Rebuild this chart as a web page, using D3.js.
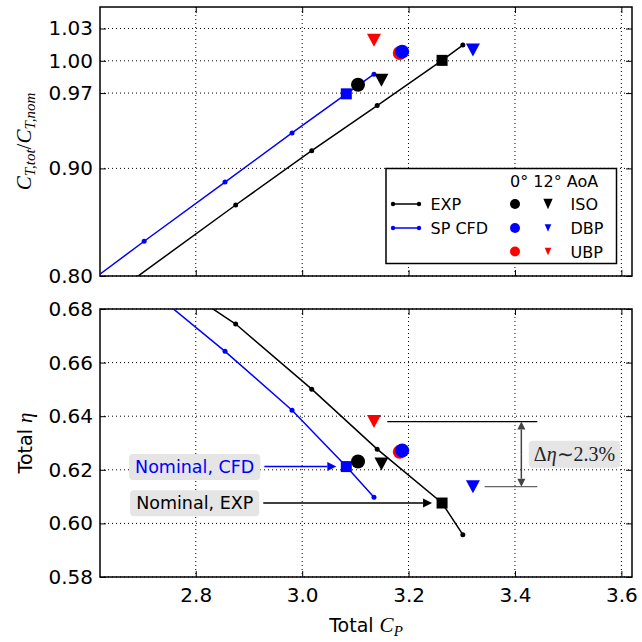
<!DOCTYPE html>
<html>
<head>
<meta charset="utf-8">
<script src="https://cdn.jsdelivr.net/npm/d3@7/dist/d3.min.js"></script>
<style>
  body { margin: 0; background: #fff; }
  text { font-family: "DejaVu Sans", sans-serif; }
  .math { font-family: "Liberation Serif", serif; }
</style>
</head>
<body>
<div id="chart"></div>
<script>
// EXP curve (small black dots), nominal point is the 5th vertex
var cp_exp  = [2.65, 2.875, 3.018, 3.141, 3.263, 3.302]
var ct_exp  = [0.785, 0.866, 0.9165, 0.9584, 1.0004, 1.0146]
var eta_exp = [0.704, 0.6744, 0.6501, 0.6277, 0.6076, 0.5958]

// SP CFD curve (small blue dots)
var cp_cfd  = [2.55, 2.703, 2.855, 2.981, 3.083, 3.135]
var ct_cfd  = [0.776, 0.8323, 0.8873, 0.933, 0.9693, 0.9876]
var eta_cfd = [0.714, 0.689, 0.6642, 0.6422, 0.6212, 0.6098]

// nominal points: [CFD, EXP]
var nom_names = ["Nominal, CFD", "Nominal, EXP"]
var nom_colors = ["blue", "black"]
var nom_cp  = [3.083, 3.263]
var nom_ct  = [0.9693, 1.0004]
var nom_eta = [0.6212, 0.6076]

// configurations at 0 and 12 deg AoA
var configs = ["ISO", "DBP", "UBP"]
var config_colors = ["black", "blue", "red"]
var cp_aoa0   = [3.105, 3.188, 3.1835]
var ct_aoa0   = [0.9777, 1.0085, 1.0072]
var eta_aoa0  = [0.6231, 0.6272, 0.6267]
var cp_aoa12  = [3.149, 3.321, 3.135]
var ct_aoa12  = [0.982, 1.010, 1.019]
var eta_aoa12 = [0.6222, 0.6137, 0.638]

var series_names = ["EXP", "SP CFD"]
var series_colors = ["black", "blue"]

var x_ticks = [2.8, 3.0, 3.2, 3.4, 3.6]
var ytop_ticks = [0.80, 0.90, 0.97, 1.00, 1.03]
var ybot_ticks = [0.58, 0.60, 0.62, 0.64, 0.66, 0.68]
var delta_label = "2.3%"

var width = 642, height = 642
var left = 100, right = 632

var x = d3.scaleLinear().domain([2.62, 3.62]).range([left, right])
var yTop = d3.scaleLinear().domain([0.80, 1.05]).range([276, 7])
var yBot = d3.scaleLinear().domain([0.58, 0.68]).range([577, 309])

var svg = d3.select("#chart").append("svg")
    .attr("width", width)
    .attr("height", height)

function zip(a, b) { return a.map((v, i) => [v, b[i]]) }

function draw_panel(y, ticks, id, showX){
  var g = svg.append("g")
  var top = y.range()[1], bot = y.range()[0]

  g.append("clipPath").attr("id", id)
    .append("rect").attr("x", left).attr("y", top)
    .attr("width", right - left).attr("height", bot - top)

  // dotted grid
  g.append("g").selectAll("line").data(x_ticks).enter().append("line")
    .attr("x1", d => x(d)).attr("x2", d => x(d))
    .attr("y1", top).attr("y2", bot)
    .attr("stroke", "black").attr("stroke-dasharray", "1,3")
  g.append("g").selectAll("line").data(ticks).enter().append("line")
    .attr("x1", left).attr("x2", right)
    .attr("y1", d => y(d)).attr("y2", d => y(d))
    .attr("stroke", "black").attr("stroke-dasharray", "1,3")

  var ax = [
    g.append("g").attr("transform", "translate(" + left + ",0)")
      .call(d3.axisLeft(y).tickValues(ticks).tickFormat(d3.format(".2f")).tickSize(-6).tickPadding(7)),
    g.append("g").attr("transform", "translate(" + right + ",0)")
      .call(d3.axisRight(y).tickValues(ticks).tickFormat("").tickSize(-6)),
    g.append("g").attr("transform", "translate(0," + bot + ")")
      .call(d3.axisBottom(x).tickValues(x_ticks).tickFormat(showX ? d3.format(".1f") : "").tickSize(-6).tickPadding(11)),
    g.append("g").attr("transform", "translate(0," + top + ")")
      .call(d3.axisTop(x).tickValues(x_ticks).tickFormat("").tickSize(-6))
  ]
  ax.forEach(a => {
    a.select(".domain").remove()
    a.selectAll("text").style("font-size", "20px").attr("fill", "black")
  })

  g.append("rect")
    .attr("x", left).attr("y", top)
    .attr("width", right - left).attr("height", bot - top)
    .attr("fill", "none").attr("stroke", "black").attr("stroke-width", 1.5)

  return g
}

function tri(cx, cy, s, h){
  return "M" + (cx - s) + "," + (cy - h) + "L" + (cx + s) + "," + (cy - h) + "L" + cx + "," + (cy + h) + "Z"
}

function draw_data(g, y, id, ct_e, ct_c, ct0, ct12, ct_nom){
  var plot = g.append("g").attr("clip-path", "url(#" + id + ")")
  var line = d3.line().x(d => x(d[0])).y(d => y(d[1]))
  var curves = [zip(cp_exp, ct_e), zip(cp_cfd, ct_c)]

  curves.forEach((c, i) => {
    plot.append("path").attr("d", line(c))
      .attr("fill", "none").attr("stroke", series_colors[i]).attr("stroke-width", 1.5)
    plot.append("g").selectAll("circle").data(c).enter().append("circle")
      .attr("cx", d => x(d[0])).attr("cy", d => y(d[1])).attr("r", 2.5)
      .attr("fill", series_colors[i])
  })

  // nominal squares
  plot.append("g").selectAll("rect").data(nom_cp).enter().append("rect")
    .attr("x", (d, i) => x(d) - 5.5).attr("y", (d, i) => y(ct_nom[i]) - 5.5)
    .attr("width", 11).attr("height", 11)
    .attr("fill", (d, i) => nom_colors[i])

  // 0 deg circles, drawn UBP first so DBP sits on top
  var order = [2, 0, 1]
  plot.append("g").selectAll("circle").data(order).enter().append("circle")
    .attr("cx", i => x(cp_aoa0[i])).attr("cy", i => y(ct0[i])).attr("r", 7)
    .attr("fill", i => config_colors[i])

  // 12 deg triangles
  plot.append("g").selectAll("path").data(order).enter().append("path")
    .attr("d", i => tri(x(cp_aoa12[i]), y(ct12[i]), 7, 6.5))
    .attr("fill", i => config_colors[i])

  return plot
}

function arrow(g, x1, y1, x2, y2, color, hl, hw){
  var dx = x2 - x1, dy = y2 - y1, L = Math.sqrt(dx*dx + dy*dy)
  var ux = dx / L, uy = dy / L
  var bx = x2 - ux*hl, by = y2 - uy*hl
  g.append("line").attr("x1", x1).attr("y1", y1).attr("x2", bx).attr("y2", by)
    .attr("stroke", color).attr("stroke-width", 1.5)
  g.append("path")
    .attr("d", "M" + x2 + "," + y2 + "L" + (bx - uy*hw) + "," + (by + ux*hw) + "L" + (bx + uy*hw) + "," + (by - ux*hw) + "Z")
    .attr("fill", color)
}

// ---------- top panel ----------
var gTop = draw_panel(yTop, ytop_ticks, "clipTop", false)
draw_data(gTop, yTop, "clipTop", ct_exp, ct_cfd, ct_aoa0, ct_aoa12, nom_ct)

// ---------- bottom panel ----------
var gBot = draw_panel(yBot, ybot_ticks, "clipBot", true)
draw_data(gBot, yBot, "clipBot", eta_exp, eta_cfd, eta_aoa0, eta_aoa12, nom_eta)

// nominal annotations
nom_names.forEach((name, i) => {
  var ty = yBot(nom_eta[i])
  var t = svg.append("text")
    .attr("x", x(2.798)).attr("y", ty).attr("dy", "0.36em")
    .attr("text-anchor", "middle")
    .style("font-size", "17.5px")
    .attr("fill", nom_colors[i])
    .text(name)
  var bb = t.node().getBBox()
  svg.insert("rect", function(){ return t.node() })
    .attr("x", bb.x - 6).attr("y", bb.y - 3)
    .attr("width", bb.width + 12).attr("height", bb.height + 6)
    .attr("rx", 4).attr("fill", "#e5e5e5")
  arrow(svg, bb.x + bb.width + 10, ty, x(nom_cp[i]) - 10, ty, nom_colors[i], 9, 4.5)
})

// delta eta annotation
var eta_hi = eta_aoa12[2], eta_lo = eta_aoa12[1]
svg.append("line")
  .attr("x1", x(3.16)).attr("x2", x(3.442))
  .attr("y1", yBot(eta_hi)).attr("y2", yBot(eta_hi))
  .attr("stroke", "black").attr("stroke-width", 1.3)
svg.append("line")
  .attr("x1", x(3.343)).attr("x2", x(3.442))
  .attr("y1", yBot(eta_lo)).attr("y2", yBot(eta_lo))
  .attr("stroke", "#666").attr("stroke-width", 1.3)
var ax_x = x(3.412)
var ym = (yBot(eta_hi) + yBot(eta_lo)) / 2
arrow(svg, ax_x, ym, ax_x, yBot(eta_hi), "#444", 8, 4)
arrow(svg, ax_x, ym, ax_x, yBot(eta_lo), "#444", 8, 4)

var dt = svg.append("text").attr("class", "math")
  .attr("x", x(3.512)).attr("y", ym).attr("dy", "0.33em")
  .attr("text-anchor", "middle")
  .style("font-size", "20px").attr("fill", "#222")
dt.append("tspan").text("Δ")
dt.append("tspan").style("font-style", "italic").text("η")
dt.append("tspan").text("∼" + delta_label)
var db = dt.node().getBBox()
svg.insert("rect", function(){ return dt.node() })
  .attr("x", db.x - 5).attr("y", db.y - 2)
  .attr("width", db.width + 10).attr("height", db.height + 4)
  .attr("rx", 4).attr("fill", "#e5e5e5")

// ---------- legend ----------
var lg = svg.append("g")
lg.append("rect").attr("x", 386).attr("y", 168.5).attr("width", 230.5).attr("height", 95)
  .attr("fill", "white").attr("stroke", "black").attr("stroke-width", 1.5)
lg.append("text").attr("x", 510).attr("y", 186.5).style("font-size", "16px").text("0° 12° AoA")

var rows = [204, 228, 251.5]
series_names.forEach((name, i) => {
  var ry = rows[i]
  lg.append("line").attr("x1", 393).attr("x2", 419).attr("y1", ry).attr("y2", ry)
    .attr("stroke", series_colors[i]).attr("stroke-width", 1.5)
  lg.selectAll(null).data([393, 419]).enter().append("circle")
    .attr("cx", d => d).attr("cy", ry).attr("r", 2.2).attr("fill", series_colors[i])
  lg.append("text").attr("x", 430.5).attr("y", ry + 6).style("font-size", "16px").text(name)
})
configs.forEach((name, i) => {
  var ry = rows[i]
  lg.append("circle").attr("cx", 515).attr("cy", ry).attr("r", 5).attr("fill", config_colors[i])
  var s = i == 0 ? 4.7 : 3.3
  lg.append("path").attr("d", tri(548, ry, s, s * 1.1)).attr("fill", config_colors[i])
  lg.append("text").attr("x", 570.5).attr("y", ry + 6).style("font-size", "16px").text(name)
})

// ---------- axis labels ----------
var yl1 = svg.append("text").attr("class", "math")
  .attr("transform", "translate(31,141.5) rotate(-90)")
  .attr("text-anchor", "middle")
  .style("font-size", "21px").style("font-style", "italic")
yl1.append("tspan").text("C")
yl1.append("tspan").attr("dy", 4).style("font-size", "15px").text("T,tot")
yl1.append("tspan").attr("dy", -4).style("font-style", "normal").text("/")
yl1.append("tspan").text("C")
yl1.append("tspan").attr("dy", 4).style("font-size", "15px").text("T,nom")

var yl2 = svg.append("text")
  .attr("transform", "translate(32,443) rotate(-90)")
  .attr("text-anchor", "middle")
  .style("font-size", "19px")
yl2.append("tspan").text("Total ")
yl2.append("tspan").attr("class", "math").style("font-style", "italic").style("font-size", "21px").text("η")

var xl = svg.append("text")
  .attr("x", 366).attr("y", 632)
  .attr("text-anchor", "middle")
  .style("font-size", "19px")
xl.append("tspan").text("Total ")
xl.append("tspan").attr("class", "math").style("font-style", "italic").style("font-size", "21px").text("C")
xl.append("tspan").attr("class", "math").style("font-style", "italic").style("font-size", "15px").attr("dy", 4).text("P")
</script>
</body>
</html>
